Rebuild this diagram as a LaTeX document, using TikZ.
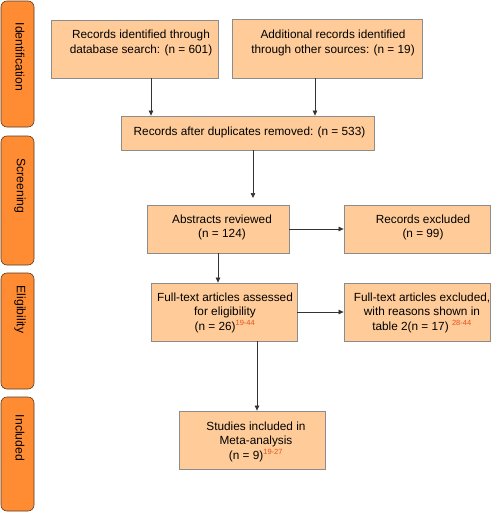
\documentclass[tikz,border=0pt]{standalone}
\usepackage{fontspec}
\setmainfont{Liberation Sans}
\usetikzlibrary{arrows.meta}
\definecolor{boxfill}{HTML}{FFCC99}
\definecolor{boxline}{HTML}{8C8C8C}
\definecolor{tabfill}{HTML}{FF8C33}
\definecolor{tabline}{HTML}{5A3A20}
\definecolor{refred}{HTML}{E8501E}
\definecolor{connline}{HTML}{333333}
\newcommand{\refsup}[1]{\textsuperscript{\color{refred}\fontsize{7.5}{7.5}\selectfont #1}}
\begin{document}
\begin{tikzpicture}[x=1pt,y=-1pt,
  box/.style={draw=boxline, fill=boxfill, line width=0.8pt, inner sep=0pt},
  txt/.style={align=center, inner sep=0pt, font=\fontsize{11.8}{14.5}\selectfont},
  tabbox/.style={draw=tabline, fill=tabfill, line width=0.6pt, rounded corners=6pt, inner sep=0pt, minimum width=33},
  tabtxt/.style={rotate=-90, inner sep=0pt, font=\fontsize{12.2}{13}\selectfont},
  conn/.style={draw=connline, line width=0.7pt, -{Triangle[length=5pt,width=4.5pt]}}
]
\useasboundingbox (0,0) rectangle (495,512);
% side tabs
\node[tabbox, minimum height=126] (t1) at (17.5,64) {};
\node[tabbox, minimum height=129] (t2) at (17.5,200.5) {};
\node[tabbox, minimum height=116] (t3) at (17.5,331) {};
\node[tabbox, minimum height=114] (t4) at (17.5,454) {};
\node[tabtxt] (tt1) at (20,57) {Identification};
\node[tabtxt] (tt2) at (20,186) {Screening};
\node[tabtxt] (tt3) at (20,309.5) {Eligibility};
\node[tabtxt] (tt4) at (20,438) {Included};
% boxes
\node[box, minimum width=167, minimum height=58] (b1) at (134.5,49) {};
\node[box, minimum width=190, minimum height=59] (b2) at (327,48.5) {};
\node[box, minimum width=253, minimum height=34] (b3) at (247.5,133) {};
\node[box, minimum width=142, minimum height=48] (b4) at (218,229) {};
\node[box, minimum width=146, minimum height=48] (b5) at (417,229) {};
\node[box, minimum width=146, minimum height=58] (b6) at (224,312) {};
\node[box, minimum width=146, minimum height=58] (b7) at (417,312) {};
\node[box, minimum width=146, minimum height=58] (b8) at (252,440) {};
% texts
\node[txt] (x1) at (141,43) {Records identified through\\database search: (n = 601)};
\node[txt] (x2) at (333,43) {Additional records identified\\through other sources: (n = 19)};
\node[txt] (x3) at (249.5,132) {Records after duplicates removed: (n = 533)};
\node[txt] (x4) at (222,227.5) {Abstracts reviewed\\(n = 124)};
\node[txt] (x5) at (423,227.5) {Records excluded\\(n = 99)};
\node[txt] (x6) at (225,312.5) {Full-text articles assessed\\for eligibility\\(n = 26)\refsup{19-44}};
\node[txt] (x7) at (422,312.5) {Full-text articles excluded,\\with reasons shown in\\table 2(n = 17) \refsup{28-44}};
\node[txt] (x8) at (256,441.5) {Studies included in\\Meta-analysis\\(n = 9)\refsup{19-27}};
% connectors
\coordinate (g1) at (253,198);
\draw[conn] (b1.south -| 151,0) -- (b3.north -| 151,0);
\draw[conn] (b2.south -| 315,0) -- (b3.north -| 315,0);
\draw[conn] (b3.south -| g1) -- (g1);
\draw[conn] (b4.east) -- (b5.west);
\draw[conn] (b4.south) -- (b6.north -| b4.south);
\draw[conn] (b6.east) -- (b7.west);
\draw[conn] (b6.south -| 257,0) -- (b8.north -| 257,0);
\end{tikzpicture}
\end{document}
